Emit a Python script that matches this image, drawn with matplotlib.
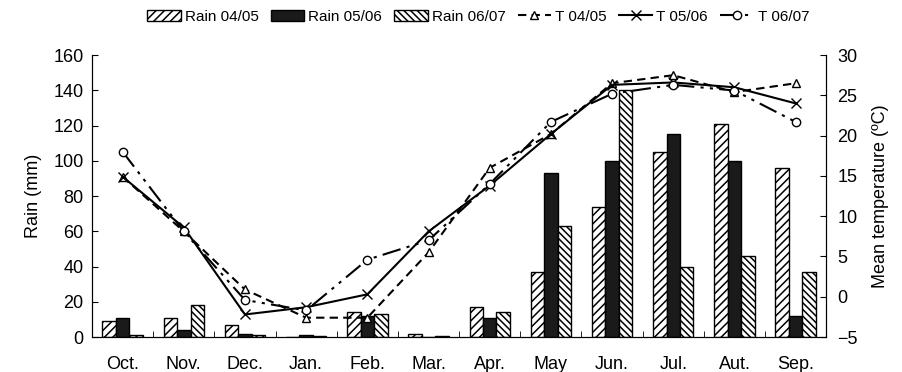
import numpy as np
import matplotlib.pyplot as plt

plt.rcParams['font.family'] = ['Liberation Sans', 'DejaVu Sans']
plt.rcParams['hatch.linewidth'] = 1.1

months = ['Oct.', 'Nov.', 'Dec.', 'Jan.', 'Feb.', 'Mar.', 'Apr.', 'May', 'Jun.', 'Jul.', 'Aut.', 'Sep.']

# rain (mm)
rain_0405 = [9, 11, 7, 0, 14, 1.5, 17, 37, 74, 105, 121, 96]
rain_0506 = [11, 4, 2, 1, 12, 0, 11, 93, 100, 115, 100, 12]
rain_0607 = [1, 18, 1, 0.5, 13, 0.5, 14, 63, 140, 40, 46, 37]

# mean temperature (C)
t_0405 = [14.9, 8.1, 0.9, -2.6, -2.6, 5.5, 16.0, 20.2, 26.5, 27.5, 25.4, 26.5]
t_0506 = [14.9, 8.6, -2.2, -1.3, 0.3, 8.1, 13.8, 20.2, 26.3, 26.6, 26.0, 24.0]
t_0607 = [18.0, 8.1, -0.4, -1.7, 4.6, 7.0, 14.0, 21.7, 25.2, 26.3, 25.6, 21.7]

x = np.arange(len(months))
w = 0.22
fs = 13

fig = plt.figure(figsize=(9.02, 3.72), dpi=100)
ax = fig.add_axes([0.102, 0.094, 0.814, 0.758])

b1 = ax.bar(x - w, rain_0405, w, color='white', edgecolor='black', hatch='////', linewidth=1, label='Rain 04/05')
b2 = ax.bar(x, rain_0506, w, color='#1a1a1a', edgecolor='black', linewidth=1, label='Rain 05/06')
b3 = ax.bar(x + w, rain_0607, w, color='white', edgecolor='black', hatch='\\\\\\\\\\', linewidth=1, label='Rain 06/07')

ax.set_xlim(-0.5, 11.5)
ax.set_ylim(0, 160)
ax.set_yticks(range(0, 161, 20))
ax.set_xticks(x)
ax.set_xticklabels(months)
ax.set_xticks(np.arange(0.5, 11, 1), minor=True)
ax.tick_params(axis='x', which='major', length=0, labelsize=fs, pad=14)
ax.tick_params(axis='x', which='minor', direction='in', length=4)
ax.tick_params(axis='y', direction='in', length=4, labelsize=fs, pad=6)
ax.set_ylabel('Rain (mm)', fontsize=fs, labelpad=8)
ax.spines['top'].set_visible(False)

ax2 = ax.twinx()
l1, = ax2.plot(x, t_0405, color='black', linestyle=(0, (4, 2.5)), linewidth=1.5, marker='^',
               markersize=6, markerfacecolor='white', label='T 04/05')
l2, = ax2.plot(x, t_0506, color='black', linestyle='-', linewidth=1.5, marker='x',
               markersize=7, label='T 05/06')
l3, = ax2.plot(x, t_0607, color='black', linestyle=(0, (9, 3, 1.5, 3, 1.5, 3)), linewidth=1.5, marker='o',
               markersize=6, markerfacecolor='white', label='T 06/07')
ax2.set_ylim(-5, 30)
ax2.set_yticks(range(-5, 31, 5))
ax2.tick_params(axis='y', direction='in', length=4, labelsize=fs, pad=8)
ax2.set_ylabel('Mean temperature (ºC)', fontsize=fs, labelpad=10)
ax2.spines['top'].set_visible(False)

handles = [b1, b2, b3, l1, l2, l3]
fig.legend(handles, [h.get_label() for h in handles], loc='center', bbox_to_anchor=(0.53, 0.955),
           ncol=6, frameon=False, fontsize=11, handlelength=2.2, handletextpad=0.25, columnspacing=0.8)

fig.savefig('out.png', dpi=100)
